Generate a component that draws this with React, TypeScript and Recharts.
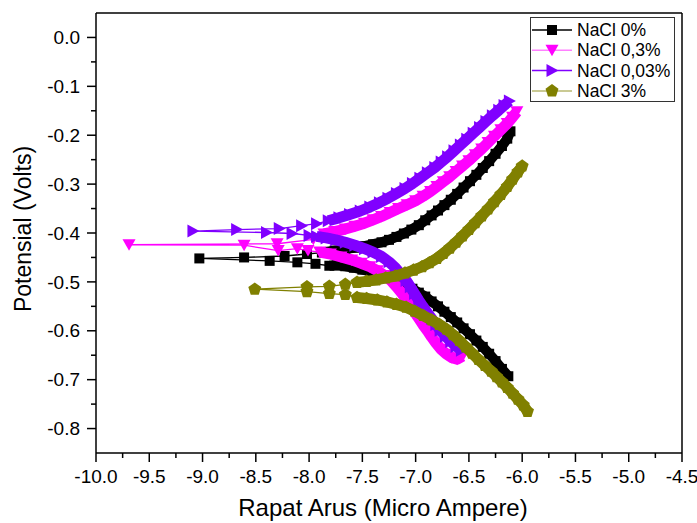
import React from 'react';
import { ScatterChart, Scatter, XAxis, YAxis, Legend, ReferenceLine, Label } from 'recharts';

const FONT = '"Liberation Sans", Arial, sans-serif';

// axis ticks (majors get a label, minors only a short tick)
const xTicks = [
  -10, -9.75, -9.5, -9.25, -9, -8.75, -8.5, -8.25, -8, -7.75, -7.5, -7.25,
  -7, -6.75, -6.5, -6.25, -6, -5.75, -5.5, -5.25, -5, -4.75, -4.5,
];
const yTicks = [
  0, -0.05, -0.1, -0.15, -0.2, -0.25, -0.3, -0.35, -0.4, -0.45, -0.5,
  -0.55, -0.6, -0.65, -0.7, -0.75, -0.8,
];

// [log current, potential] - cathodic end -> tip -> anodic end
const nacl0: [number, number][] = [
  [-6.13, -0.693], [-6.19, -0.678], [-6.25, -0.662], [-6.31, -0.647], [-6.37, -0.633],
  [-6.43, -0.62], [-6.49, -0.607], [-6.55, -0.595], [-6.61, -0.583], [-6.67, -0.572],
  [-6.73, -0.561], [-6.79, -0.55], [-6.85, -0.54], [-6.91, -0.53], [-6.97, -0.522],
  [-7.03, -0.514], [-7.1, -0.505], [-7.18, -0.497], [-7.26, -0.49], [-7.34, -0.484],
  [-7.42, -0.479], [-7.5, -0.475], [-7.58, -0.471], [-7.66, -0.468], [-7.74, -0.466],
  [-7.81, -0.467], [-7.94, -0.463], [-8.11, -0.46], [-8.37, -0.457], [-9.03, -0.452],
  [-8.61, -0.45], [-8.23, -0.447], [-8.02, -0.443], [-7.88, -0.44], [-7.76, -0.436],
  [-7.66, -0.433], [-7.56, -0.43], [-7.48, -0.427], [-7.4, -0.423], [-7.32, -0.419],
  [-7.25, -0.414], [-7.18, -0.408], [-7.11, -0.401], [-7.04, -0.393], [-6.97, -0.384],
  [-6.91, -0.374], [-6.85, -0.364], [-6.79, -0.354], [-6.73, -0.343], [-6.67, -0.332],
  [-6.61, -0.32], [-6.55, -0.307], [-6.49, -0.294], [-6.43, -0.281], [-6.37, -0.267],
  [-6.31, -0.253], [-6.25, -0.238], [-6.19, -0.222], [-6.14, -0.207], [-6.11, -0.192],
];

const nacl03: [number, number][] = [
  [-6.56, -0.652], [-6.61, -0.658], [-6.66, -0.655], [-6.71, -0.648], [-6.76, -0.638],
  [-6.81, -0.625], [-6.85, -0.613], [-6.89, -0.6], [-6.93, -0.588], [-6.97, -0.575],
  [-7.01, -0.562], [-7.05, -0.549], [-7.09, -0.536], [-7.13, -0.523], [-7.18, -0.51],
  [-7.23, -0.498], [-7.29, -0.487], [-7.36, -0.477], [-7.43, -0.469], [-7.51, -0.462],
  [-7.6, -0.455], [-7.7, -0.449], [-7.8, -0.443], [-7.9, -0.439], [-8.01, -0.436],
  [-8.11, -0.432], [-8.29, -0.436], [-8.61, -0.425], [-9.69, -0.424],
  [-8.3, -0.422], [-7.96, -0.413], [-7.86, -0.402], [-7.76, -0.397], [-7.66, -0.392],
  [-7.57, -0.386], [-7.48, -0.38], [-7.4, -0.373], [-7.32, -0.366], [-7.24, -0.358],
  [-7.16, -0.35], [-7.08, -0.342], [-7.0, -0.334], [-6.93, -0.325], [-6.86, -0.315],
  [-6.8, -0.305], [-6.74, -0.295], [-6.68, -0.285], [-6.62, -0.274], [-6.56, -0.263],
  [-6.5, -0.252], [-6.44, -0.24], [-6.38, -0.228], [-6.32, -0.215], [-6.26, -0.202],
  [-6.2, -0.189], [-6.14, -0.176], [-6.09, -0.163], [-6.05, -0.152],
];

const nacl003: [number, number][] = [
  [-6.57, -0.64], [-6.62, -0.632], [-6.67, -0.622], [-6.72, -0.611], [-6.77, -0.599],
  [-6.81, -0.587], [-6.85, -0.575], [-6.89, -0.563], [-6.93, -0.551], [-6.97, -0.538],
  [-7.01, -0.524], [-7.05, -0.51], [-7.09, -0.497], [-7.14, -0.484], [-7.19, -0.471],
  [-7.25, -0.459], [-7.32, -0.448], [-7.4, -0.439], [-7.48, -0.432], [-7.57, -0.425],
  [-7.66, -0.419], [-7.75, -0.414], [-7.84, -0.41], [-7.93, -0.407], [-8.0, -0.405],
  [-8.16, -0.401], [-8.4, -0.399], [-9.09, -0.396],
  [-8.68, -0.393], [-8.28, -0.391], [-8.07, -0.385], [-7.93, -0.381], [-7.82, -0.375],
  [-7.72, -0.369], [-7.62, -0.362], [-7.52, -0.355], [-7.43, -0.347], [-7.34, -0.338],
  [-7.26, -0.329], [-7.18, -0.319], [-7.1, -0.309], [-7.03, -0.299], [-6.96, -0.288],
  [-6.89, -0.277], [-6.82, -0.266], [-6.76, -0.255], [-6.7, -0.244], [-6.64, -0.232],
  [-6.58, -0.22], [-6.52, -0.208], [-6.46, -0.196], [-6.4, -0.184], [-6.34, -0.172],
  [-6.28, -0.16], [-6.22, -0.149], [-6.17, -0.139], [-6.12, -0.13],
];

const nacl3: [number, number][] = [
  [-5.95, -0.765], [-5.99, -0.752], [-6.04, -0.74], [-6.09, -0.728], [-6.14, -0.716],
  [-6.19, -0.705], [-6.24, -0.694], [-6.29, -0.683], [-6.35, -0.671], [-6.41, -0.659],
  [-6.47, -0.646], [-6.53, -0.633], [-6.59, -0.62], [-6.65, -0.608], [-6.71, -0.597],
  [-6.78, -0.587], [-6.85, -0.578], [-6.93, -0.569], [-7.01, -0.56], [-7.09, -0.552],
  [-7.18, -0.546], [-7.27, -0.541], [-7.36, -0.537], [-7.46, -0.534], [-7.55, -0.532],
  [-7.66, -0.526], [-7.81, -0.524], [-8.02, -0.52], [-8.51, -0.515],
  [-8.02, -0.51], [-7.81, -0.509], [-7.66, -0.505], [-7.55, -0.501], [-7.46, -0.499],
  [-7.37, -0.496], [-7.28, -0.492], [-7.19, -0.488], [-7.1, -0.482], [-7.02, -0.476],
  [-6.94, -0.469], [-6.87, -0.461], [-6.8, -0.452], [-6.74, -0.442], [-6.68, -0.431],
  [-6.62, -0.419], [-6.56, -0.406], [-6.5, -0.393], [-6.44, -0.379], [-6.38, -0.365],
  [-6.32, -0.351], [-6.26, -0.336], [-6.2, -0.321], [-6.14, -0.305], [-6.09, -0.29],
  [-6.04, -0.275], [-6.0, -0.263],
];

type Kind = 'square' | 'down' | 'right' | 'pentagon';

// cathEnd / anodStart: where the densely sampled part of each branch begins,
// those parts are drawn as a solid band under the markers
const series = [
  { name: 'NaCl 0%', data: nacl0, color: '#000000', legendLine: '#000000', kind: 'square' as Kind, cathEnd: 26, anodStart: 33, band: 10 },
  { name: 'NaCl 0,3%', data: nacl03, color: '#ff00ff', legendLine: '#ff80ff', kind: 'down' as Kind, cathEnd: 24, anodStart: 31, band: 11 },
  { name: 'NaCl 0,03%', data: nacl003, color: '#8000ff', legendLine: '#8000ff', kind: 'right' as Kind, cathEnd: 24, anodStart: 32, band: 11 },
  { name: 'NaCl 3%', data: nacl3, color: '#808000', legendLine: '#b8b870', kind: 'pentagon' as Kind, cathEnd: 25, anodStart: 32, band: 11 },
];

const toPoints = (arr: [number, number][]) => arr.map(([x, y]) => ({ x, y }));

function Marker({ kind, cx, cy, color }: { kind: Kind; cx: number; cy: number; color: string }) {
  if (kind === 'square') {
    return <rect x={cx - 5} y={cy - 5} width={10} height={10} fill={color} />;
  }
  if (kind === 'down') {
    return <polygon points={`${cx - 6.5},${cy - 5.5} ${cx + 6.5},${cy - 5.5} ${cx},${cy + 6}`} fill={color} />;
  }
  if (kind === 'right') {
    return <polygon points={`${cx - 5.5},${cy - 6.5} ${cx - 5.5},${cy + 6.5} ${cx + 6.5},${cy}`} fill={color} />;
  }
  const pts = [0, 1, 2, 3, 4]
    .map((i) => {
      const a = ((-90 + 72 * i) * Math.PI) / 180;
      return `${cx + 6.8 * Math.cos(a)},${cy + 6.8 * Math.sin(a)}`;
    })
    .join(' ');
  return <polygon points={pts} fill={color} />;
}

const isMajor = (v: number, step: number) => Math.abs(v / step - Math.round(v / step)) < 1e-6;

const XTick = (props: any) => {
  const { x, y, payload } = props;
  const v = payload.value as number;
  const major = isMajor(v, 0.5);
  return (
    <g>
      <line x1={x} x2={x} y1={y} y2={y + (major ? 9 : 5)} stroke="#000" strokeWidth={1.5} />
      {major && (
        <text x={x} y={y + 30} textAnchor="middle" fontSize={19} fontFamily={FONT} fill="#000">
          {v.toFixed(1)}
        </text>
      )}
    </g>
  );
};

const YTick = (props: any) => {
  const { x, y, payload } = props;
  const v = payload.value as number;
  const major = isMajor(v, 0.1);
  return (
    <g>
      <line x1={x} x2={x - (major ? 9 : 5)} y1={y} y2={y} stroke="#000" strokeWidth={1.5} />
      {major && (
        <text x={x - 16} y={y} dy="0.35em" textAnchor="end" fontSize={19} fontFamily={FONT} fill="#000">
          {v.toFixed(1)}
        </text>
      )}
    </g>
  );
};

const LegendBox = () => (
  <svg width={146} height={86} style={{ display: 'block' }}>
    <rect x={0.5} y={0.5} width={144} height={84} fill="#fff" stroke="#333" strokeWidth={1} />
    {series.map((s, i) => {
      const cy = 13 + i * 20.3;
      return (
        <g key={s.name}>
          <line x1={2} x2={42} y1={cy} y2={cy} stroke={s.legendLine} strokeWidth={1.5} />
          <Marker kind={s.kind} cx={22} cy={cy} color={s.color} />
          <text x={47} y={cy} dy="0.35em" fontSize={17.5} fontFamily={FONT} fill="#000">
            {s.name}
          </text>
        </g>
      );
    })}
  </svg>
);

const noMarker = () => <g />;

export default function App() {
  return (
    <div style={{ padding: '8px 0 0 8px', width: 689, height: 515 }}>
      <style>{'body{margin:0}'}</style>
      <ScatterChart width={689} height={515} margin={{ top: 5, right: 15, bottom: 0, left: 0 }}>
        <XAxis
          type="number"
          dataKey="x"
          domain={[-10, -4.5]}
          ticks={xTicks}
          interval={0}
          tick={<XTick />}
          tickLine={false}
          tickSize={0}
          tickMargin={0}
          axisLine={{ stroke: '#000', strokeWidth: 1.5 }}
          height={70}
          allowDataOverflow
        >
          <Label
            content={() => (
              <text x={375} y={508} textAnchor="middle" fontSize={24} fontFamily={FONT} fill="#000">
                Rapat Arus (Micro Ampere)
              </text>
            )}
          />
        </XAxis>
        <YAxis
          type="number"
          dataKey="y"
          domain={[-0.85, 0.05]}
          ticks={yTicks}
          interval={0}
          tick={<YTick />}
          tickLine={false}
          tickSize={0}
          tickMargin={0}
          axisLine={{ stroke: '#000', strokeWidth: 1.5 }}
          width={88}
          allowDataOverflow
        >
          <Label
            content={() => (
              <text
                x={23}
                y={221}
                transform="rotate(-90 23 221)"
                textAnchor="middle"
                fontSize={23}
                fontFamily={FONT}
                fill="#000"
              >
                Potensial (Volts)
              </text>
            )}
          />
        </YAxis>
        <ReferenceLine y={0.05} stroke="#000" strokeWidth={1.5} />
        <ReferenceLine x={-4.5} stroke="#000" strokeWidth={1.5} />
        {series.flatMap((s) => [
          <Scatter
            key={s.name + '-cath'}
            data={toPoints(s.data.slice(0, s.cathEnd))}
            fill={s.color}
            line={{ stroke: s.color, strokeWidth: s.band, strokeLinejoin: 'round' }}
            lineType="joint"
            shape={noMarker}
            legendType="none"
            isAnimationActive={false}
          />,
          <Scatter
            key={s.name + '-anod'}
            data={toPoints(s.data.slice(s.anodStart))}
            fill={s.color}
            line={{ stroke: s.color, strokeWidth: s.band, strokeLinejoin: 'round' }}
            lineType="joint"
            shape={noMarker}
            legendType="none"
            isAnimationActive={false}
          />,
          <Scatter
            key={s.name}
            name={s.name}
            data={toPoints(s.data)}
            fill={s.color}
            line={{ stroke: s.color, strokeWidth: 1.3 }}
            lineType="joint"
            shape={(p: any) => <Marker kind={s.kind} cx={p.cx} cy={p.cy} color={s.color} />}
            isAnimationActive={false}
          />,
        ])}
        <Legend
          layout="horizontal"
          verticalAlign="middle"
          align="center"
          wrapperStyle={{ left: 522, top: 9, width: 146, height: 86 }}
          content={() => <LegendBox />}
        />
      </ScatterChart>
    </div>
  );
}
